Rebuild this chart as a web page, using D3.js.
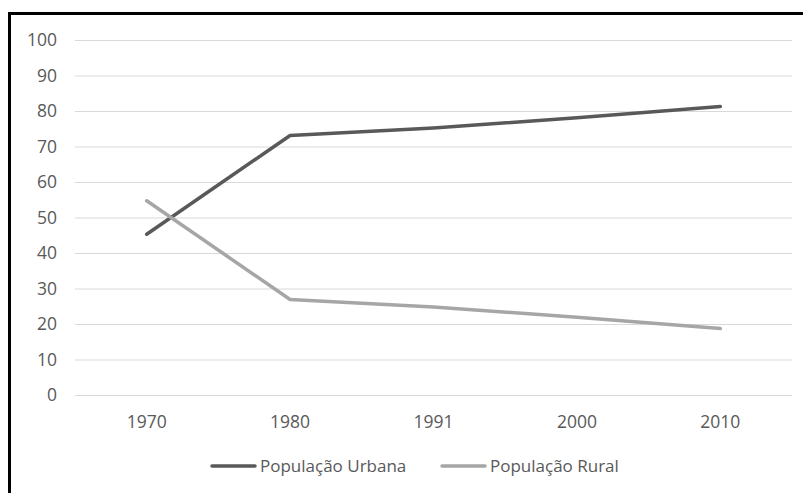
<!DOCTYPE html>
<html>
<head>
<meta charset="utf-8">
<script src="https://cdn.jsdelivr.net/npm/d3@7"></script>
<style>
  body { margin: 0; background: #fff; }
  svg text { font-family: "Open Sans", "Noto Sans", sans-serif; fill: #595959; }
</style>
</head>
<body>
<svg id="chart" width="803" height="493"></svg>
<script>
var years = ['1970', '1980', '1991', '2000', '2010'];
var urbana = [45.3, 73.1, 75.2, 78.1, 81.3];
var rural = [54.7, 26.9, 24.8, 21.9, 18.7];
var yTicks = [0, 10, 20, 30, 40, 50, 60, 70, 80, 90, 100];

var series = [
	{ name: 'População Urbana', values: urbana, color: '#595959' },
	{ name: 'População Rural', values: rural, color: '#a6a6a6' }
];

var svg = d3.select('#chart');
var plot = { left: 75, right: 792, top: 40, bottom: 395 };

// moldura preta (só aparecem os lados de cima e da esquerda)
svg.append('rect')
	.attr('x', 9.5).attr('y', 13.5)
	.attr('width', 900).attr('height', 600)
	.attr('fill', 'none').attr('stroke', '#000').attr('stroke-width', 3);

var x = d3.scaleBand().domain(years).range([plot.left, plot.right]);
var y = d3.scaleLinear().domain([0, 100]).range([plot.bottom, plot.top]);

// grade + rótulos do eixo y
var yAxis = svg.append('g')
	.attr('transform', 'translate(' + plot.left + ',0)')
	.call(d3.axisLeft(y).tickValues(yTicks).tickSize(-(plot.right - plot.left)).tickPadding(18));
yAxis.select('.domain').remove();
yAxis.selectAll('line').attr('stroke', '#d9d9d9').attr('stroke-width', 1);
yAxis.selectAll('text').attr('font-size', '17.5px').style('fill', '#595959');

// eixo x
var xAxis = svg.append('g')
	.attr('transform', 'translate(0,' + plot.bottom + ')')
	.call(d3.axisBottom(x).tickSize(0).tickPadding(21));
xAxis.select('.domain').remove();
xAxis.selectAll('text').attr('font-size', '17.5px').style('fill', '#595959');

var line = d3.line()
	.x(function(d, i){ return x(years[i]) + x.bandwidth() / 2; })
	.y(function(d){ return y(d); });

series.forEach(function(s){
	svg.append('path')
		.datum(s.values)
		.attr('d', line)
		.attr('fill', 'none')
		.attr('stroke', s.color)
		.attr('stroke-width', 3.5)
		.attr('stroke-linecap', 'round')
		.attr('stroke-linejoin', 'round');
});

// legenda
var legendX = [212, 442];
var legend = svg.selectAll('.legend')
	.data(series)
	.enter()
	.append('g')
	.attr('class', 'legend')
	.attr('transform', function(d, i){ return 'translate(' + legendX[i] + ',466)'; });
legend.append('line')
	.attr('x1', 0).attr('x2', 43)
	.attr('stroke', function(d){ return d.color; })
	.attr('stroke-width', 3.5)
	.attr('stroke-linecap', 'round');
legend.append('text')
	.attr('x', 48).attr('dy', '0.35em')
	.attr('font-size', '17px')
	.text(function(d){ return d.name; });
</script>
</body>
</html>
